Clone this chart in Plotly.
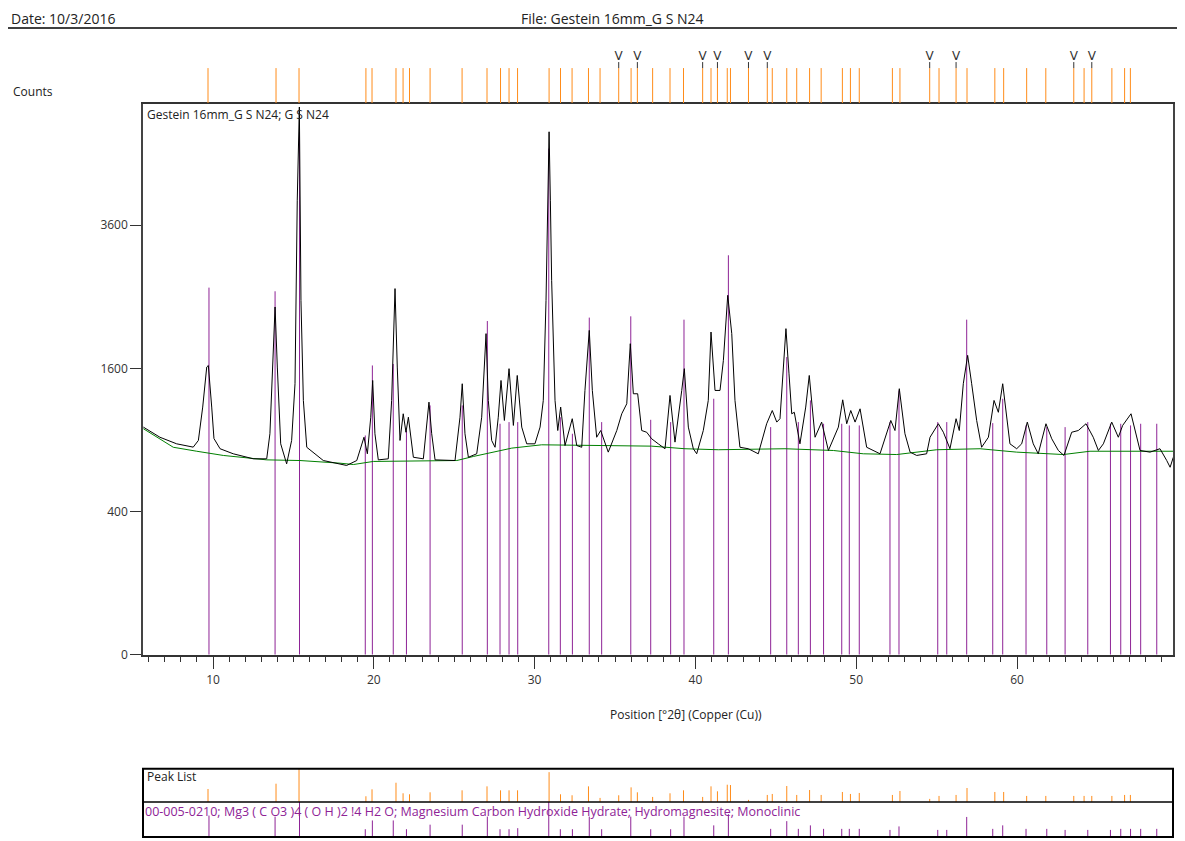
import numpy as np
import plotly.graph_objects as go

W, H = 1185, 850
VS = 0.9895  # observed vertical rendering factor of the capture

# ---------------- data ----------------
scan_x = [5.67, 6.70, 7.74, 8.77, 9.09, 9.36, 9.61, 9.71, 9.92, 10.06,
          10.44, 11.26, 12.51, 13.34, 13.54, 13.71, 13.86, 14.00, 14.21, 14.58,
          14.89, 15.10, 15.24, 15.37, 15.47, 15.62, 15.83, 16.86, 18.31, 18.94,
          19.39, 19.60, 19.81, 19.93, 20.07, 20.28, 20.90, 21.11, 21.32, 21.46,
          21.63, 21.83, 22.00, 22.15, 22.46, 23.08, 23.29, 23.43, 23.60, 23.81,
          25.05, 25.36, 25.50, 25.67, 25.88, 26.40, 26.71, 26.98, 27.12, 27.33,
          27.54, 27.74, 27.91, 28.12, 28.41, 28.68, 28.92, 29.20, 29.51, 30.02,
          30.34, 30.54, 30.71, 30.85, 30.90, 30.98, 31.06, 31.27, 31.44, 31.62,
          31.89, 32.34, 32.62, 32.93, 33.13, 33.40, 33.59, 33.86, 34.11, 34.58,
          35.11, 35.42, 35.73, 35.95, 36.14, 36.41, 36.66, 36.97, 37.28, 37.69,
          38.11, 38.42, 38.73, 39.15, 39.31, 39.56, 39.87, 40.08, 40.49, 40.80,
          40.97, 41.22, 41.53, 41.74, 42.01, 42.26, 42.46, 42.77, 43.29, 43.91,
          44.43, 44.78, 45.06, 45.26, 45.47, 45.63, 45.82, 45.99, 46.15, 46.50,
          46.86, 47.08, 47.44, 47.85, 48.27, 48.89, 49.16, 49.41, 49.66, 49.93,
          50.24, 50.65, 51.48, 51.90, 52.15, 52.41, 52.68, 53.03, 53.35, 53.76,
          54.38, 54.59, 55.11, 55.42, 55.83, 56.21, 56.41, 56.66, 56.93, 57.18,
          57.49, 57.80, 58.22, 58.57, 58.84, 59.11, 59.36, 59.56, 59.98, 60.29,
          60.64, 61.01, 61.32, 61.80, 62.16, 62.57, 62.92, 63.40, 63.81, 64.29,
          64.74, 65.06, 65.37, 65.89, 66.30, 66.57, 67.09, 67.44, 67.65, 68.27,
          68.89, 69.31, 69.52, 69.72]
scan_counts = [1011, 923, 868, 841, 896, 1197, 1615, 1633, 1197, 912,
               828, 788, 749, 749, 953, 1615, 2360, 1615, 868, 711,
               896, 1433, 4032, 5855, 2451, 1262, 840, 736, 699, 736,
               923, 788, 1101, 1468, 953, 741, 749, 1262, 2616, 1615,
               896, 1133, 966, 1101, 761, 749, 1071, 1245, 953, 741,
               736, 1101, 1433, 953, 761, 788, 1101, 2012, 1262, 896,
               840, 1101, 1468, 1071, 1597, 1026, 1522, 1011, 868, 868,
               1011, 1262, 2451, 4968, 5337, 4032, 2736, 1262, 981, 1197,
               854, 1087, 854, 840, 1363, 2053, 1363, 923, 981, 801,
               981, 1133, 1229, 1888, 1329, 1329, 981, 966, 910, 868,
               828, 1312, 882, 1363, 1597, 1011, 828, 788, 981, 1262,
               2032, 1363, 1363, 1691, 2521, 2012, 1262, 840, 828, 788,
               1041, 1164, 1056, 1087, 1615, 2075, 1540, 1133, 1147, 868,
               1197, 1522, 923, 1056, 814, 1011, 1268, 1041, 1164, 1056,
               1180, 840, 788, 953, 1071, 981, 1381, 953, 801, 775,
               788, 923, 1041, 966, 828, 1087, 981, 1433, 1749, 1433,
               1071, 840, 923, 1262, 1147, 1433, 1071, 868, 828, 868,
               1056, 868, 788, 1041, 910, 814, 775, 966, 981, 1041,
               923, 814, 868, 1056, 923, 1026, 1133, 923, 814, 801,
               828, 736, 686, 761]

bg_x = [5.67, 6.70, 7.53, 8.99, 10.64, 13.34, 15.41, 17.90, 18.73, 19.97,
        25.16, 26.19, 27.12, 28.58, 30.44, 33.34, 37.28, 39.35, 41.42, 45.57,
        48.58, 50.44, 52.52, 55.01, 57.70, 59.98, 62.88, 64.54, 69.72]
bg_counts = [997, 910, 840, 808, 775, 741, 736, 716, 706, 729,
             736, 767, 793, 833, 860, 854, 849, 828, 820, 828,
             814, 788, 782, 820, 828, 801, 782, 808, 808]

# Reference pattern 00-005-0210 (Hydromagnesite)
ref_x = [9.75, 13.86, 15.38, 19.47, 19.91, 21.21, 22.03, 23.50, 25.50, 27.06,
         27.85, 28.41, 28.95, 30.88, 31.60, 32.35, 33.40, 34.17, 35.98, 37.22,
         38.46, 39.29, 41.14, 42.05, 44.68, 45.68, 46.40, 47.15, 47.97, 49.10,
         49.57, 50.19, 52.10, 52.66, 55.07, 55.63, 56.87, 58.49, 59.11, 60.56,
         61.85, 62.99, 64.40, 65.81, 66.45, 67.06, 67.69, 68.69]
ref_counts = [2630, 2578, 5337, 938, 1633, 1650, 981, 1213, 1213, 2173,
              1041, 1056, 1056, 5000, 1101, 953, 2218, 1056, 2235, 1077,
              1056, 2191, 1279, 3114, 1011, 1729, 1056, 1262, 1041, 1041,
              1026, 1026, 1056, 1363, 1056, 1056, 2191, 1047, 1279, 1026,
              1011, 1011, 1056, 1041, 1041, 1026, 1041, 1041]
ref_rel = [61, 58, 100, 22, 47, 47, 22, 35, 35, 58,
           22, 22, 25, 100, 22, 22, 58, 22, 58, 22,
           22, 58, 33, 65, 23, 45, 23, 33, 23, 23,
           23, 23, 20, 30, 20, 20, 57, 23, 33, 23,
           23, 20, 20, 20, 23, 23, 23, 23]

# Peak list
peak_x = [9.69, 13.92, 15.35, 19.51, 19.89, 21.38, 21.82, 22.22, 23.50, 25.49,
          27.04, 27.88, 28.41, 28.94, 30.90, 31.61, 32.33, 33.35, 34.07, 35.23,
          36.00, 36.39, 37.34, 38.42, 39.26, 40.45, 40.97, 41.37, 41.98, 42.18,
          43.30, 44.47, 44.78, 45.68, 46.30, 47.10, 47.82, 49.14, 49.64, 50.19,
          52.25, 52.72, 54.57, 55.15, 56.21, 56.89, 58.62, 59.17, 60.60, 61.79,
          63.53, 64.17, 64.65, 65.90, 66.69, 67.05]
peak_rel = [39, 55, 100, 17, 38, 58, 26, 23, 29, 35,
            47, 35, 35, 35, 90, 23, 20, 47, 12, 20,
            44, 29, 15, 26, 35, 15, 47, 32, 52, 51,
            6, 21, 24, 48, 21, 36, 21, 30, 24, 27,
            21, 33, 9, 18, 21, 42, 30, 30, 18, 18,
            18, 18, 18, 18, 21, 21]
marked_x = [35.23, 36.39, 40.45, 41.37, 43.30, 44.47, 54.57, 56.21, 63.53, 64.65]

y_ticks = [0, 400, 1600, 3600]
x_ticks = [10, 20, 30, 40, 50, 60]

# ---------------- helpers ----------------
def px(x):
    return x / W

def py(y):
    return 1 - (y / VS) / H

def sticks(xs, tops, base=0.0):
    X, Y = [], []
    for a, t in zip(xs, tops):
        X += [a, a, None]
        Y += [base, t, None]
    return X, Y

FONT = "Open Sans, Noto Sans, sans-serif"
PURPLE = "#8e2396"
ORANGE = "#ff8c1a"

fig = go.Figure()

sx, sy = sticks(ref_x, np.sqrt(ref_counts))
fig.add_trace(go.Scatter(x=sx, y=sy, mode="lines", line=dict(color=PURPLE, width=1),
                         hoverinfo="skip", showlegend=False))
fig.add_trace(go.Scatter(x=bg_x, y=np.sqrt(bg_counts), mode="lines",
                         line=dict(color="#008000", width=1), showlegend=False))
fig.add_trace(go.Scatter(x=scan_x, y=np.sqrt(scan_counts), mode="lines",
                         line=dict(color="black", width=1), showlegend=False))

tx, ty = sticks(peak_x, [35] * len(peak_x))
fig.add_trace(go.Scatter(x=tx, y=ty, yaxis="y2", mode="lines",
                         line=dict(color=ORANGE, width=1), showlegend=False))
vx, vy = sticks(marked_x, [41] * len(marked_x), base=35)
fig.add_trace(go.Scatter(x=vx, y=vy, yaxis="y2", mode="lines",
                         line=dict(color="#333333", width=1), showlegend=False))
fig.add_trace(go.Scatter(x=marked_x, y=[46] * len(marked_x), yaxis="y2", mode="text",
                         text=["V"] * len(marked_x),
                         textfont=dict(family="DejaVu Sans", size=12, color="#333333"),
                         showlegend=False))

ox, oy = sticks(peak_x, peak_rel)
fig.add_trace(go.Scatter(x=ox, y=oy, yaxis="y3", mode="lines",
                         line=dict(color=ORANGE, width=1), showlegend=False))
rx, ry = sticks(ref_x, ref_rel)
fig.add_trace(go.Scatter(x=rx, y=ry, yaxis="y4", mode="lines",
                         line=dict(color=PURPLE, width=1), showlegend=False))

xl, xr = 143, 1173
fig.update_layout(
    width=W, height=H, margin=dict(l=0, r=0, t=0, b=0), autosize=False,
    paper_bgcolor="white", plot_bgcolor="white", showlegend=False,
    font=dict(family=FONT, size=12, color="#333333"),
    xaxis=dict(domain=[px(xl), px(xr)], range=[5.647, 69.70], anchor="y",
               showline=True, linecolor="#333333", linewidth=1.5, mirror=True,
               ticks="outside", ticklen=13, tickcolor="#333333",
               tickvals=x_ticks, ticktext=[str(v) for v in x_ticks],
               minor=dict(dtick=1, tick0=0, ticks="outside", ticklen=6, tickcolor="#333333"),
               showgrid=False, zeroline=False, tickfont=dict(size=12, color="#333333")),
    yaxis=dict(domain=[py(654), py(104)], range=[0, 76.92], anchor="x",
               showline=True, linecolor="#444444", linewidth=1.5, mirror=True,
               ticks="outside", ticklen=11, tickcolor="#333333",
               tickvals=[np.sqrt(v) for v in y_ticks], ticktext=[str(v) for v in y_ticks],
               showgrid=False, zeroline=False, tickfont=dict(size=12, color="#333333")),
    yaxis2=dict(domain=[py(103), py(45)], range=[0, 58], anchor="x", visible=False),
    yaxis3=dict(domain=[py(801), py(768)], range=[0, 100], anchor="x", visible=False),
    yaxis4=dict(domain=[py(836), py(801)], range=[0, 100], anchor="x", visible=False),
)

shapes = [
    dict(type="line", xref="paper", yref="paper", x0=px(8), x1=px(1177), y0=py(28), y1=py(28),
         line=dict(color="black", width=1.5)),
    dict(type="rect", xref="paper", yref="paper", x0=px(xl), x1=px(xr), y0=py(836), y1=py(768),
         line=dict(color="black", width=2)),
    dict(type="line", xref="paper", yref="paper", x0=px(xl), x1=px(xr), y0=py(801), y1=py(801),
         line=dict(color="black", width=1.5)),
]
fig.update_layout(shapes=shapes)

def ann(text, x, y, size=13, xanchor="left", color="#222222", family=FONT):
    return dict(text=text, x=px(x), y=py(y), xref="paper", yref="paper",
                xanchor=xanchor, yanchor="middle", showarrow=False,
                font=dict(family=family, size=size, color=color))

fig.update_layout(annotations=[
    ann("Date: 10/3/2016", 9, 18, size=14),
    ann("File: Gestein 16mm_G S N24", 612, 18, size=14, xanchor="center"),
    ann("Counts", 11, 91, size=12),
    ann("Gestein 16mm_G S N24; G S N24", 145, 114, size=12),
    ann("Position [°2θ] (Copper (Cu))", 686, 714, size=12, xanchor="center"),
    ann("Peak List", 145, 776, size=12),
    ann("00-005-0210; Mg3 ( C O3 )4 ( O H )2 !4 H2 O; Magnesium Carbon Hydroxide Hydrate; Hydromagnesite; Monoclinic",
        143, 811, size=12.5, color="#8e2396"),
])

fig.write_html("out.html", config={"responsive": False, "displayModeBar": False},
               post_script="document.body.style.margin='0px';document.body.style.overflow='hidden';")
